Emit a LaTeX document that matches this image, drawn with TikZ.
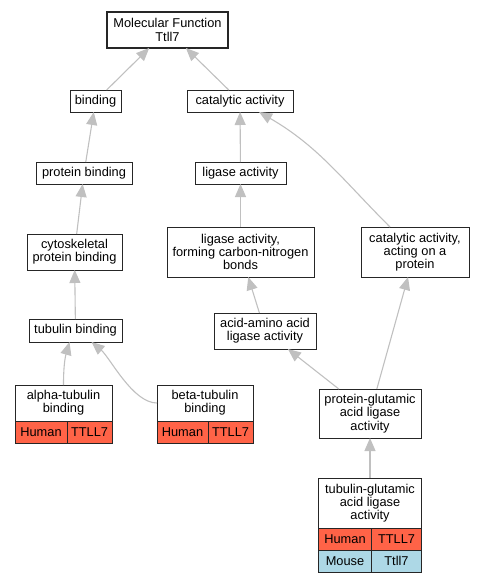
\documentclass[tikz,border=0pt]{standalone}
\usepackage{fontspec}
\setmainfont{Liberation Sans}
\usetikzlibrary{arrows.meta,positioning}
\definecolor{edgegray}{HTML}{C0C0C0}
\definecolor{human}{HTML}{FF6347}
\definecolor{mouse}{HTML}{ADD8E6}
\tikzset{gobox/.style={draw=black!85, line width=1pt, fill=white, align=center, inner sep=2pt, outer sep=0pt, font=\fontsize{12.8}{13.2}\selectfont}}
\tikzset{cell/.style={gobox, minimum height=22pt}}
\tikzset{arr/.style={draw=edgegray, line width=1.1pt, -{Triangle[length=13pt,width=11pt]}}}
\newcommand\annrow[7]{
		\node[cell, fill=#3, minimum width=#6, anchor=north west] (#2-sp) at (#1.south west) {#4};
		\node[cell, fill=#3, minimum width=#7, anchor=north west] (#2-gn) at (#2-sp.north east) {#5};
	}

\begin{document}
\begin{tikzpicture}[x=1pt,y=1pt]
		\useasboundingbox (0,0) rectangle (484,-581);
		
		\node[gobox, line width=1.5pt, minimum width=121pt, minimum height=36pt] (mf) at (167.5,-30) {Molecular Function\\Ttll7};
		
		\node[gobox, minimum width=51pt, minimum height=22pt] (binding) at (95.5,-101) {binding};
		\node[gobox, minimum width=96pt, minimum height=22pt] (protbind) at (84,-173) {protein binding};
		\node[gobox, minimum width=95pt, minimum height=36pt] (cytoskel) at (74.5,-252) {cytoskeletal\\protein binding};
		\node[gobox, minimum width=93pt, minimum height=23pt] (tubbind) at (75.5,-330.5) {tubulin binding};
		\node[gobox, minimum width=97pt, minimum height=36pt] (alphatub) at (63.5,-403) {alpha-tubulin\\binding};
		\node[gobox, minimum width=96pt, minimum height=36pt] (betatub) at (205,-403) {beta-tubulin\\binding};
		\annrow{alphatub}{alphaH}{human}{Human}{TTLL7}{52pt}{45pt}
		\annrow{betatub}{betaH}{human}{Human}{TTLL7}{51pt}{45pt}
		
		\node[gobox, minimum width=106pt, minimum height=22pt] (catalytic) at (240,-101) {catalytic activity};
		\node[gobox, minimum width=91pt, minimum height=22pt] (ligase) at (240.5,-173) {ligase activity};
		\node[gobox, minimum width=147pt, minimum height=50pt] (ligasecn) at (240.5,-252) {ligase activity,\\forming carbon-nitrogen\\bonds};
		\node[gobox, minimum width=108pt, minimum height=50pt] (catprot) at (415,-252) {catalytic activity,\\acting on a\\protein};
		\node[gobox, minimum width=102pt, minimum height=36pt] (acidamino) at (265,-331) {acid-amino acid\\ligase activity};
		\node[gobox, minimum width=102pt, minimum height=49pt] (protglu) at (370,-413.5) {protein-glutamic\\acid ligase\\activity};
		\node[gobox, minimum width=103pt, minimum height=50pt] (tubglu) at (370,-503) {tubulin-glutamic\\acid ligase\\activity};
		\annrow{tubglu}{tubgluH}{human}{Human}{TTLL7}{53pt}{50pt}
		\annrow{tubgluH-sp}{tubgluM}{mouse}{Mouse}{Ttll7}{53pt}{50pt}
		
		\draw[arr] (binding) -- (mf);
		\draw[arr] (catalytic) -- (mf);
		\draw[arr] (protbind) -- (binding);
		\draw[arr] (cytoskel) -- (protbind);
		\draw[arr] (tubbind) -- (cytoskel);
		\draw[arr] (alphatub.north) to[bend left=8] ([xshift=-6pt]tubbind.south);
		\draw[arr] (betatub.west) to[out=180, in=-40, looseness=0.7] ([xshift=16pt]tubbind.south);
		
		\draw[arr] (ligase) -- (catalytic);
		\draw[arr] (catprot) to[out=135, in=-30] (catalytic);
		\draw[arr] (ligasecn) -- (ligase);
		\draw[arr] (acidamino) -- (ligasecn);
		\draw[arr] (protglu) -- (acidamino);
		\draw[arr] (protglu) -- (catprot);
		\draw[arr] (tubglu) -- (protglu);
	\end{tikzpicture}
\end{document}
